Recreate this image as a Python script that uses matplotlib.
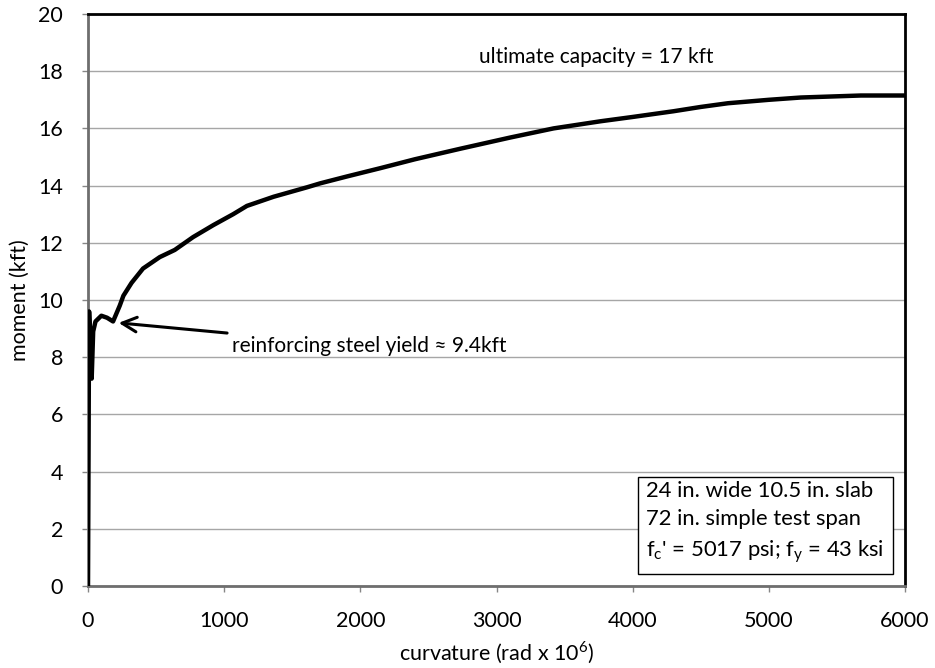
import numpy as np
import matplotlib.pyplot as plt

# moment-curvature response of the slab
curvature = [0, 8, 27, 38, 55, 98, 140, 184, 233, 260, 320, 404, 527, 637, 772,
             921, 1066, 1167, 1363, 1608, 1706, 1902, 2147, 2400, 2735, 3100,
             3419, 3765, 4000, 4300, 4500, 4700, 5000, 5235, 5676, 6000]
moment = [0, 9.6, 7.25, 8.9, 9.25, 9.45, 9.38, 9.25, 9.8, 10.15, 10.6, 11.1,
          11.5, 11.75, 12.2, 12.62, 13.0, 13.29, 13.61, 13.94, 14.08, 14.32,
          14.61, 14.92, 15.29, 15.68, 16.0, 16.25, 16.4, 16.6, 16.75, 16.88,
          17.0, 17.08, 17.15, 17.15]

x_ticks = [0, 1000, 2000, 3000, 4000, 5000, 6000]
y_ticks = [0, 2, 4, 6, 8, 10, 12, 14, 16, 18, 20]

yield_moment = 9.4
ultimate_moment = 17
specimen_notes = ["24 in. wide 10.5 in. slab",
                  "72 in. simple test span",
                  "f$_\\mathregular{c}$' = 5017 psi; f$_\\mathregular{y}$ = 43 ksi"]

plt.rcParams['font.family'] = ['Lato', 'DejaVu Sans']
plt.rcParams['mathtext.fontset'] = 'custom'
plt.rcParams['mathtext.rm'] = 'Lato'

fig = plt.figure(figsize=(9.35, 6.68), dpi=100)
ax = fig.add_axes([88 / 935, 1 - 586 / 668, (905 - 88) / 935, (586 - 14) / 668])

ax.plot(curvature, moment, color='black', lw=3.2, solid_joinstyle='round',
        solid_capstyle='butt', zorder=3)

ax.set_xlim(0, 6000)
ax.set_ylim(0, 20)
ax.set_xticks(x_ticks)
ax.set_yticks(y_ticks)
ax.tick_params(labelsize=15.5, color='#868686', length=4, width=1, direction='out')
ax.tick_params(axis='x', pad=14)
ax.tick_params(axis='y', pad=14)

ax.grid(axis='y', color='#a6a6a6', lw=1)
ax.set_axisbelow(True)

for side in ('left', 'bottom'):
    ax.spines[side].set_color('#6e6e6e')
    ax.spines[side].set_linewidth(2)
for side in ('top', 'right'):
    ax.spines[side].set_color('black')
    ax.spines[side].set_linewidth(2)

ax.set_xlabel('curvature (rad x 10$^\\mathregular{6}$)', fontsize=15.5, labelpad=6)
ax.set_ylabel('moment (kft)', fontsize=15.5, labelpad=6)

ax.text(3730, 18.5, f'ultimate capacity = {ultimate_moment} kft', fontsize=15,
        ha='center', va='center')

ax.annotate(f'reinforcing steel yield \u2248 {yield_moment}kft',
            xy=(225, 9.2), xytext=(1056, 8.38), fontsize=15,
            ha='left', va='center',
            arrowprops=dict(arrowstyle='->,head_length=0.7,head_width=0.35',
                            color='black', lw=2.2, shrinkA=4, shrinkB=0))

ax.text(4100, 2.2, '\n'.join(specimen_notes), fontsize=15.8, ha='left',
        va='center', linespacing=1.5,
        bbox=dict(boxstyle='square,pad=0.4', facecolor='white',
                  edgecolor='black', lw=1))

fig.savefig('out.png', dpi=100)
